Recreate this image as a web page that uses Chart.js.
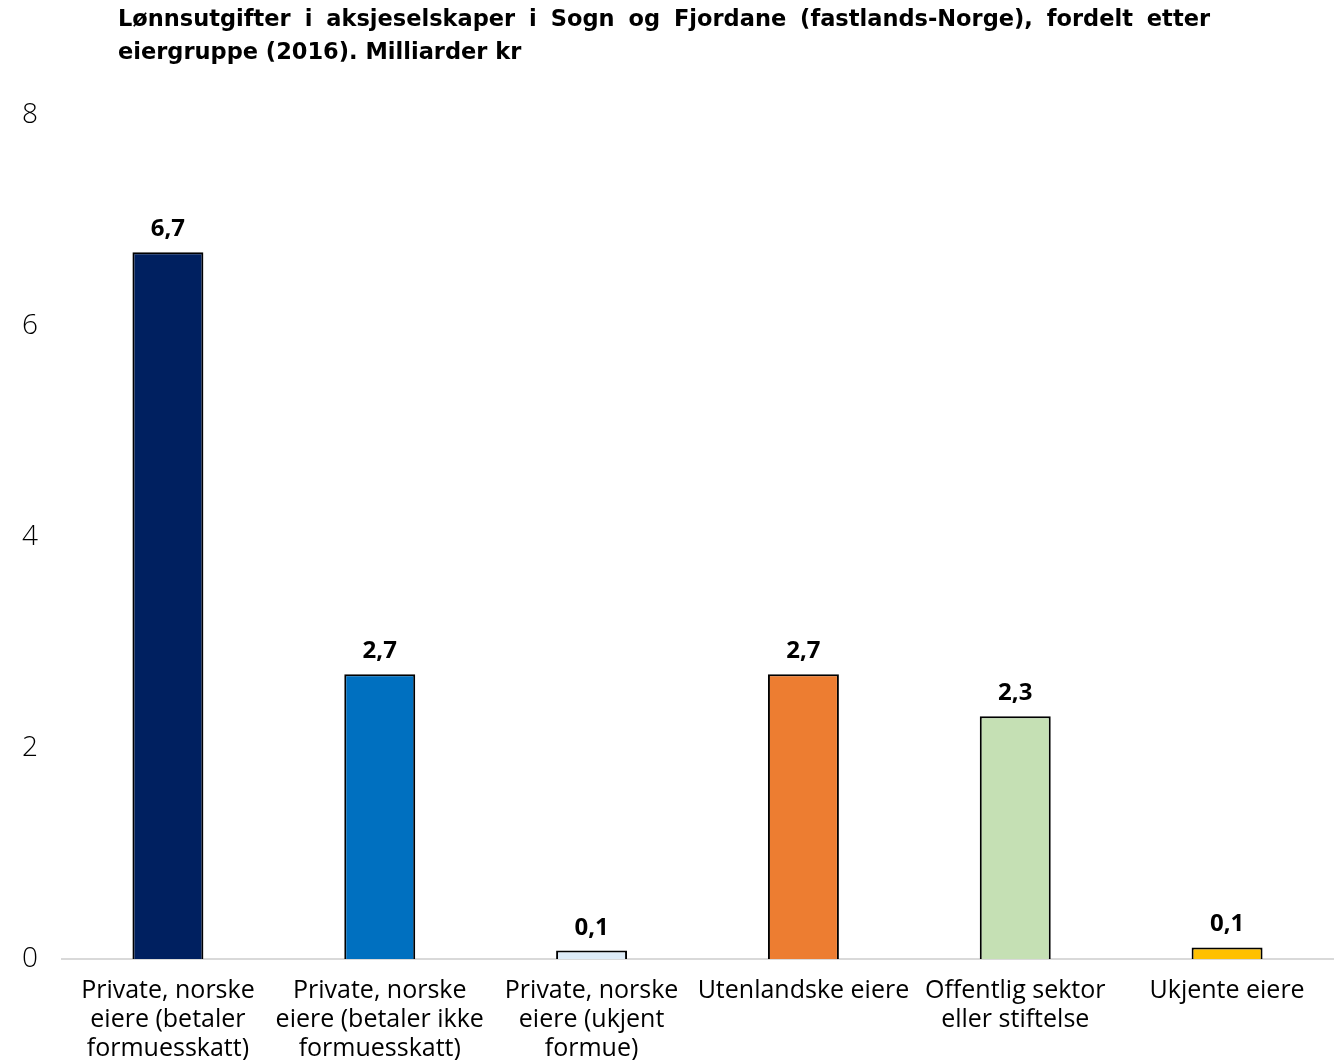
<!DOCTYPE html>
<html>
<head>
<meta charset="utf-8">
<script src="https://cdn.jsdelivr.net/npm/chart.js@4/dist/chart.umd.min.js"></script>
<style>
  html, body { margin: 0; padding: 0; background: #fff; }
  #wrap { position: relative; width: 1337px; height: 1060px; }
  #title {
    position: absolute; left: 118px; top: 2px; width: 1092px;
    font-family: "DejaVu Sans", sans-serif; font-weight: bold; font-size: 22.5px;
    line-height: 33px; color: #000; z-index: 2;
  }
  #title .l1 { display: flex; justify-content: space-between; white-space: nowrap; }
  canvas { position: absolute; left: 0; top: 0; }
</style>
</head>
<body>
<div id="wrap">
  <div id="title"><div class="l1" id="l1"></div><div class="l2">eiergruppe (2016). Milliarder kr</div></div>
  <canvas id="c" width="1337" height="1060"></canvas>
</div>
<script>
const titleLine1 = "Lønnsutgifter i aksjeselskaper i Sogn og Fjordane (fastlands-Norge), fordelt etter";
const categories = [
  ["Private, norske", "eiere (betaler", "formuesskatt)"],
  ["Private, norske", "eiere (betaler ikke", "formuesskatt)"],
  ["Private, norske", "eiere (ukjent", "formue)"],
  ["Utenlandske eiere"],
  ["Offentlig sektor", "eller stiftelse"],
  ["Ukjente eiere"]
];
const values = [6.7, 2.7, 0.08, 2.7, 2.3, 0.11];
const barColors = ["#002060", "#0070C0", "#DDEBF7", "#ED7D31", "#C5E0B4", "#FFC000"];
const yTicks = [0, 2, 4, 6, 8];

const l1 = document.getElementById('l1');
titleLine1.split(' ').forEach(w => {
  const s = document.createElement('span');
  s.textContent = w;
  l1.appendChild(s);
});

const FONT = '"Open Sans", sans-serif';

const valueLabels = {
  id: 'valueLabels',
  afterDatasetsDraw(chart) {
    const ctx = chart.ctx;
    const meta = chart.getDatasetMeta(0);
    ctx.save();
    ctx.font = 'bold 24px ' + FONT;
    ctx.fillStyle = '#000';
    ctx.textAlign = 'center';
    ctx.textBaseline = 'alphabetic';
    meta.data.forEach((bar, i) => {
      const txt = values[i].toFixed(1).replace('.', ',');
      ctx.fillText(txt, bar.x, bar.y - 16);
    });
    ctx.restore();
  }
};

new Chart(document.getElementById('c'), {
  type: 'bar',
  data: {
    labels: categories,
    datasets: [{
      data: values,
      backgroundColor: barColors,
      borderColor: '#000',
      borderWidth: 2,
      borderSkipped: 'bottom',
      barPercentage: 0.335,
      categoryPercentage: 1.0
    }]
  },
  options: {
    responsive: false,
    animation: false,
    devicePixelRatio: 1,
    layout: { padding: { top: 115, right: 4, left: 0, bottom: 0 } },
    plugins: { legend: { display: false }, tooltip: { enabled: false }, title: { display: false } },
    scales: {
      x: {
        grid: { display: false, drawTicks: false },
        border: { display: true, color: '#D9D9D9', width: 2 },
        ticks: {
          color: '#000', padding: 17, maxRotation: 0, autoSkip: false,
          font: { family: FONT, size: 25, lineHeight: 1.17 }
        },
        afterFit(scale) { scale.height = 101; }
      },
      y: {
        min: 0, max: 8,
        grid: { display: false, drawTicks: false },
        border: { display: false },
        afterBuildTicks(scale) { scale.ticks = yTicks.map(v => ({ value: v })); },
        ticks: {
          color: '#000', padding: 24,
          font: { family: FONT, size: 28, weight: '300' },
          callback: (v) => String(v)
        },
        afterFit(scale) { scale.width = 62; }
      }
    }
  },
  plugins: [valueLabels]
});
</script>
</body>
</html>
